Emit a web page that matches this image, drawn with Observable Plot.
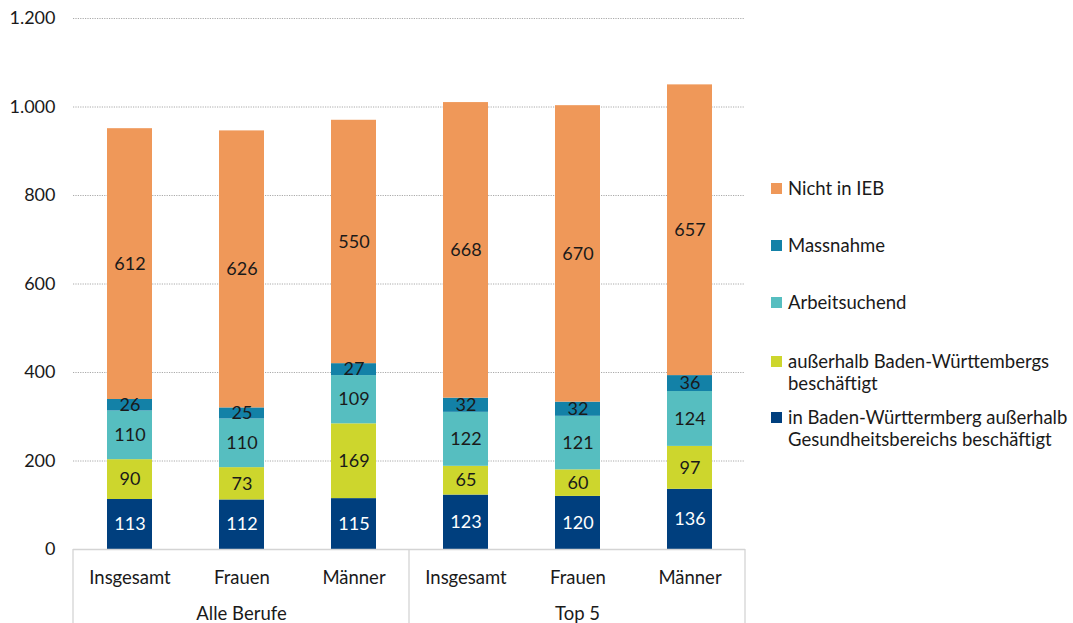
<!DOCTYPE html>
<html>
<head>
<meta charset="utf-8">
<script src="https://cdn.jsdelivr.net/npm/d3@7"></script>
<script src="https://cdn.jsdelivr.net/npm/@observablehq/plot@0.6"></script>
<style>
  html, body { margin: 0; padding: 0; background: #fff; }
  #wrap { position: relative; width: 1073px; height: 623px; overflow: hidden; font-family: Lato, "Noto Sans", sans-serif; color: #1a1a1a; }
  #legend { position: absolute; left: 771px; top: 0; font-size: 18.5px; line-height: 22px; }
  .item { position: absolute; left: 0; white-space: nowrap; display: flex; align-items: flex-start; }
  .sw { width: 11px; height: 11px; margin-top: 5.5px; margin-right: 6px; flex: none; }
</style>
</head>
<body>
<div id="wrap"><div id="legend"></div></div>
<script>
// ---- data ----
const categories = ["Insgesamt", "Frauen", "Männer", "Insgesamt", "Frauen", "Männer"];
const groups = ["Alle Berufe", "Alle Berufe", "Alle Berufe", "Top 5", "Top 5", "Top 5"];
const seriesNames = [
  "in Baden-Württermberg außerhalb Gesundheitsbereichs beschäftigt",
  "außerhalb Baden-Württembergs beschäftigt",
  "Arbeitsuchend",
  "Massnahme",
  "Nicht in IEB"
];
const inBW       = [113, 112, 115, 123, 120, 136];
const ausserhalb = [ 90,  73, 169,  65,  60,  97];
const arbeitsu   = [110, 110, 109, 122, 121, 124];
const massnahme  = [ 26,  25,  27,  32,  32,  36];
const nichtIEB   = [612, 626, 550, 668, 670, 657];
const seriesValues = [inBW, ausserhalb, arbeitsu, massnahme, nichtIEB];
const colors = ["#003F7E", "#CDD62D", "#56BEC0", "#1381A7", "#EF9859"];
const yTicks = [0, 200, 400, 600, 800, 1000, 1200];
const catDomain = ["Insgesamt", "Frauen", "Männer"];
const groupDomain = ["Alle Berufe", "Top 5"];

const rows = [];
seriesNames.forEach((s, si) => {
  categories.forEach((c, i) => {
    rows.push({series: s, cat: c, group: groups[i], value: seriesValues[si][i]});
  });
});

const de = d3.formatLocale({decimal: ",", thousands: ".", grouping: [3], currency: ["", "€"]});
const fmt = de.format(",");
const navy = seriesNames[0];

const stackOpts = {fx: "group", x: "cat", y: "value", z: "series", order: seriesNames, text: d => d.value};

const chart = Plot.plot({
  width: 760,
  height: 623,
  marginLeft: 72,
  marginRight: 15,
  marginTop: 18,
  marginBottom: 74,
  style: {fontFamily: "Lato, 'Noto Sans', sans-serif", fontSize: "18px", color: "#1a1a1a", background: "transparent"},
  fx: {domain: groupDomain, padding: 0, label: null, axis: null},
  x: {domain: catDomain, paddingInner: 0.6, paddingOuter: 0.3, label: null, axis: null},
  y: {domain: [0, 1200], label: null, axis: null},
  color: {domain: seriesNames, range: colors},
  marks: [
    Plot.gridY(yTicks.filter(t => t > 0), {stroke: "#aaa", strokeOpacity: 1, strokeDasharray: "1.2,1.2", strokeWidth: 1}),
    Plot.barY(rows, {fx: "group", x: "cat", y: "value", fill: "series", order: seriesNames}),
    Plot.text(rows, Plot.filter(d => d.series === navy, Plot.stackY({...stackOpts, fill: "white", fontSize: 18}))),
    Plot.text(rows, Plot.filter(d => d.series !== navy, Plot.stackY({...stackOpts, fill: "#1a1a1a", fontSize: 18}))),
    Plot.ruleY([0], {stroke: "#d4d4d4", strokeWidth: 1.3}),
    Plot.axisY(yTicks, {tickSize: 0, tickPadding: 18, tickFormat: fmt, fontSize: 18}),
    Plot.axisX({tickSize: 0, tickPadding: 21, fontSize: 18.5}),
    Plot.axisFx({anchor: "bottom", tickSize: 0, tickPadding: 57, fontSize: 18.5})
  ]
});

document.getElementById("wrap").prepend(chart);
chart.style.position = "absolute";
chart.style.left = "0px";
chart.style.top = "0px";

// separators of the two-level category axis
const fx = chart.scale("fx");
const y = chart.scale("y");
const y0 = y.apply(0);
const edges = [fx.apply(groupDomain[0]), fx.apply(groupDomain[1]), fx.apply(groupDomain[1]) + fx.bandwidth];
d3.select(chart).append("g")
  .selectAll("line").data(edges).join("line")
  .attr("x1", d => d).attr("x2", d => d)
  .attr("y1", y0).attr("y2", 623)
  .attr("stroke", "#d4d4d4").attr("stroke-width", 1.3);

// legend
const legendItems = [
  {name: "Nicht in IEB", color: colors[4], top: 177},
  {name: "Massnahme", color: colors[3], top: 234},
  {name: "Arbeitsuchend", color: colors[2], top: 291},
  {name: "außerhalb Baden-Württembergs<br>beschäftigt", color: colors[1], top: 350},
  {name: "in Baden-Württermberg außerhalb<br>Gesundheitsbereichs beschäftigt", color: colors[0], top: 406}
];
const legend = d3.select("#legend");
legendItems.forEach(it => {
  const row = legend.append("div").attr("class", "item").style("top", it.top + "px");
  row.append("div").attr("class", "sw").style("background", it.color);
  row.append("div").html(it.name);
});
</script>
</body>
</html>
